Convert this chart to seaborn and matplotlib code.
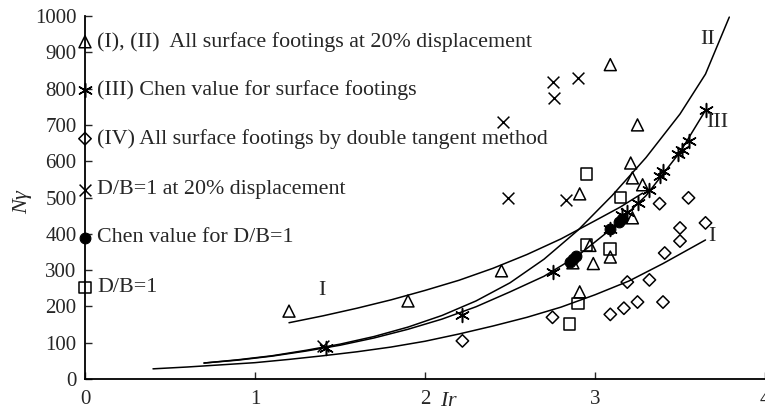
import matplotlib
matplotlib.use("Agg")
import matplotlib.pyplot as plt
import seaborn as sns

# ---- observed bearing capacity factors ----
tri_x = [1.20, 1.90, 2.45, 2.87, 2.91, 2.91, 2.97, 2.99, 3.09, 3.09, 3.21, 3.22, 3.22, 3.25, 3.28]
tri_y = [187, 215, 298, 320, 510, 240, 368, 318, 866, 336, 595, 554, 444, 700, 535]

star_x = [1.42, 2.22, 2.75, 3.09, 3.16, 3.19, 3.25, 3.32, 3.38, 3.40, 3.49, 3.51, 3.55, 3.65]
star_y = [85, 176, 295, 414, 452, 460, 485, 522, 558, 572, 620, 630, 655, 740]

dia_x = [2.22, 2.75, 3.09, 3.17, 3.19, 3.25, 3.32, 3.40, 3.41, 3.50, 3.50, 3.38, 3.55, 3.65]
dia_y = [105, 170, 178, 195, 267, 212, 273, 212, 347, 380, 416, 483, 499, 430]

cross_x = [1.40, 2.46, 2.49, 2.75, 2.76, 2.83, 2.90]
cross_y = [90, 709, 500, 817, 775, 494, 830]

circ_x = [2.85, 2.87, 2.89, 3.09, 3.14, 3.16]
circ_y = [322, 330, 338, 412, 432, 442]

sq_x = [2.85, 2.90, 2.95, 2.95, 3.09, 3.15]
sq_y = [152, 208, 368, 565, 358, 500]

# ---- fitted curves ----
curve_I_up_x = [1.20, 1.40, 1.60, 1.80, 2.00, 2.20, 2.40, 2.60, 2.80, 3.00, 3.15, 3.28]
curve_I_up_y = [155, 174, 195, 218, 244, 272, 305, 343, 386, 436, 474, 512]

curve_II_x = [0.70, 0.90, 1.10, 1.30, 1.50, 1.70, 1.90, 2.10, 2.30, 2.50, 2.70, 2.90,
              3.10, 3.30, 3.50, 3.65, 3.79]
curve_II_y = [44, 53, 64, 79, 96, 117, 143, 175, 215, 265, 330, 410,
              505, 610, 730, 840, 997]

curve_III_x = [0.70, 0.90, 1.10, 1.30, 1.50, 1.70, 1.90, 2.10, 2.30, 2.50, 2.70, 2.90,
               3.10, 3.30, 3.50, 3.65]
curve_III_y = [44, 52, 63, 77, 93, 113, 137, 165, 199, 240, 283, 340,
               415, 505, 625, 740]

curve_I_low_x = [0.40, 0.60, 0.80, 1.00, 1.20, 1.40, 1.60, 1.80, 2.00, 2.20, 2.40, 2.60,
                 2.80, 3.00, 3.20, 3.40, 3.65]
curve_I_low_y = [28, 33, 39, 45, 54, 64, 75, 88, 104, 124, 146, 170,
                 198, 232, 270, 318, 383]

x_ticks = [0, 1, 2, 3, 4]
y_ticks = [0, 100, 200, 300, 400, 500, 600, 700, 800, 900, 1000]

legend_labels = [
    "(I), (II)  All surface footings at 20% displacement",
    "(III) Chen value for surface footings",
    "(IV) All surface footings by double tangent method",
    "D/B=1 at 20% displacement",
    "Chen value for D/B=1",
    "D/B=1",
]
legend_y = [929, 797, 662, 521, 389, 252]

sns.set_style("ticks")
plt.rcParams["font.family"] = ["Liberation Serif", "DejaVu Serif"]
plt.rcParams["mathtext.fontset"] = "custom"
plt.rcParams["mathtext.rm"] = "Liberation Serif"
plt.rcParams["mathtext.it"] = "Liberation Serif:italic"

fig = plt.figure(figsize=(7.65, 4.13), dpi=100)
ax = fig.add_axes([85 / 765, 34 / 413, 680 / 765, 363 / 413])

LW = 1.1
styles = {
    "tri": dict(marker="^", s=74, facecolors="none", edgecolors="black", color="black", linewidths=1.1),
    "star": dict(marker=(6, 2, 0), s=100, color="black", linewidths=1.1),
    "dia": dict(marker="D", s=40, facecolors="none", edgecolors="black", color="black", linewidths=1.1),
    "cross": dict(marker="x", s=72, color="black", linewidths=1.1),
    "circ": dict(marker="o", s=60, color="black", edgecolors="black", linewidths=0.8),
    "sq": dict(marker="s", s=74, facecolors="none", edgecolors="black", color="black", linewidths=1.1),
}

# curves
for cx, cy in [(curve_I_up_x, curve_I_up_y), (curve_II_x, curve_II_y),
               (curve_III_x, curve_III_y), (curve_I_low_x, curve_I_low_y)]:
    sns.lineplot(x=cx, y=cy, color="black", linewidth=LW, sort=False,
                 estimator=None, ax=ax, zorder=2)

# data points
series = [("tri", tri_x, tri_y), ("star", star_x, star_y), ("dia", dia_x, dia_y),
          ("cross", cross_x, cross_y), ("circ", circ_x, circ_y), ("sq", sq_x, sq_y)]
for key, sx, sy in series:
    sns.scatterplot(x=sx, y=sy, ax=ax, zorder=3, legend=False, **styles[key])

# key drawn along the left axis
for (key, _, _), label, ly in zip(series, legend_labels, legend_y):
    ax.scatter([0], [ly], clip_on=False, zorder=5, **styles[key])
    ax.text(0.072, ly, label, fontsize=15.8, va="center", ha="left")

# curve labels
ax.text(1.394, 243, "I", fontsize=15.8, ha="center", va="center")
ax.text(3.665, 935, "II", fontsize=15.8, ha="center", va="center")
ax.text(3.72, 706, "III", fontsize=15.8, ha="center", va="center")
ax.text(3.69, 392, "I", fontsize=15.8, ha="center", va="center")

ax.set_xlim(0, 4)
ax.set_ylim(0, 1000)
ax.set_xticks(x_ticks)
ax.set_yticks(y_ticks)
ax.tick_params(direction="in", length=5, width=1.0, labelsize=15)
ax.tick_params(axis="x", pad=8)
ax.tick_params(axis="y", pad=6)
for side in ["top", "right"]:
    ax.spines[side].set_visible(False)
for side in ["left", "bottom"]:
    ax.spines[side].set_linewidth(1.3)
    ax.spines[side].set_color("black")

ax.set_ylabel(r"$N\gamma$", fontsize=16)
ax.yaxis.set_label_coords(-0.075, 0.49)
ax.set_xlabel(r"$Ir$", fontsize=15.8)
ax.xaxis.set_label_coords(0.535, -0.035)

fig.savefig("out.png", dpi=100)
